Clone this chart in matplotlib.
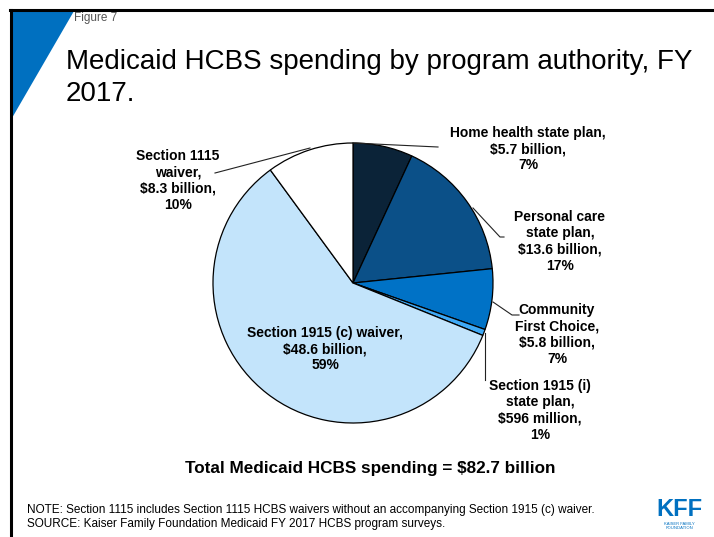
import matplotlib
matplotlib.use("Agg")
import matplotlib.pyplot as plt
from matplotlib.patches import Polygon

plt.rcParams["font.family"] = ["Liberation Sans", "DejaVu Sans"]

# Spending by program authority, FY 2017 (billions)
programs = [
    "Home health state plan",
    "Personal care state plan",
    "Community First Choice",
    "Section 1915 (i) state plan",
    "Section 1915 (c) waiver",
    "Section 1115 waiver",
]
spending = [5.7, 13.6, 5.8, 0.596, 48.6, 8.3]
labels = [
    "Home health state plan,\n$5.7 billion,\n7%",
    "Personal care\nstate plan,\n$13.6 billion,\n17%",
    "Community\nFirst Choice,\n$5.8 billion,\n7%",
    "Section 1915 (i)\nstate plan,\n$596 million,\n1%",
    "Section 1915 (c) waiver,\n$48.6 billion,\n59%",
    "Section 1115\nwaiver,\n$8.3 billion,\n10%",
]
colors = ["#0B2338", "#0B5088", "#0072C6", "#3FA9F5", "#C3E4FB", "#FFFFFF"]

W, H = 714, 537
fig = plt.figure(figsize=(W / 100, H / 100), dpi=100)
ax = fig.add_axes([0, 0, 1, 1])


def py(y):
    # pixel rows counted from the top
    return H - y


cx, cy, r = 353, py(283), 140
ax.pie(spending, colors=colors, startangle=90, counterclock=False,
       center=(cx, cy), radius=r,
       wedgeprops=dict(edgecolor="black", linewidth=0.9))

ax.set_xlim(0, W)
ax.set_ylim(0, H)
ax.set_aspect("equal")
ax.axis("off")

# slide frame and corner triangle
ax.plot([10, W], [py(10), py(10)], color="black", lw=2.2)
ax.plot([11, 11], [py(10), 0], color="black", lw=2.2)
ax.add_patch(Polygon([(12, py(11)), (74, py(11)), (12, py(118))],
                     closed=True, color="#0070C0", lw=0, zorder=0))

ax.text(74, py(18), "Figure 7", fontsize=8.5, color="#555555", va="center")
ax.text(66, py(62), "Medicaid HCBS spending by program authority, FY",
        fontsize=20, va="center")
ax.text(66, py(94), "2017.", fontsize=20, va="center")

lab_kw = dict(fontsize=10, fontweight="bold", ha="center", va="top",
              linespacing=1.2)
ax.text(528, py(126), labels[0], **lab_kw)
ax.text(560, py(210), labels[1], **lab_kw)
ax.text(557, py(303), labels[2], **lab_kw)
ax.text(540, py(379), labels[3], **lab_kw)
ax.text(325, py(326), labels[4], **lab_kw)
ax.text(178, py(149), labels[5], **lab_kw)

# leader lines
lc = dict(color="#222222", lw=0.8)
ax.plot([353, 438], [py(143), py(147)], **lc)
ax.plot([473, 500, 504], [py(208), py(237), py(237)], **lc)
ax.plot([493, 512, 519], [py(302), py(315), py(315)], **lc)
ax.plot([485, 485], [py(333), py(380)], **lc)
ax.plot([310, 215], [py(148), py(173)], **lc)

ax.text(370, py(468), "Total Medicaid HCBS spending = $82.7 billion",
        fontsize=12.3, fontweight="bold", ha="center", va="center")

ax.text(27, py(510), "NOTE: Section 1115 includes Section 1115 HCBS waivers "
        "without an accompanying Section 1915 (c) waiver.",
        fontsize=8.5, va="center")
ax.text(27, py(524), "SOURCE: Kaiser Family Foundation Medicaid FY 2017 HCBS "
        "program surveys.", fontsize=8.5, va="center")

ax.text(679, py(510), "KFF", fontsize=17, fontweight="bold",
        color="#0070C0", ha="center", va="center")
ax.text(679, py(526), "KAISER FAMILY\nFOUNDATION", fontsize=3,
        color="#0070C0", ha="center", va="center", linespacing=1.0)

fig.savefig("out.png", dpi=100)
